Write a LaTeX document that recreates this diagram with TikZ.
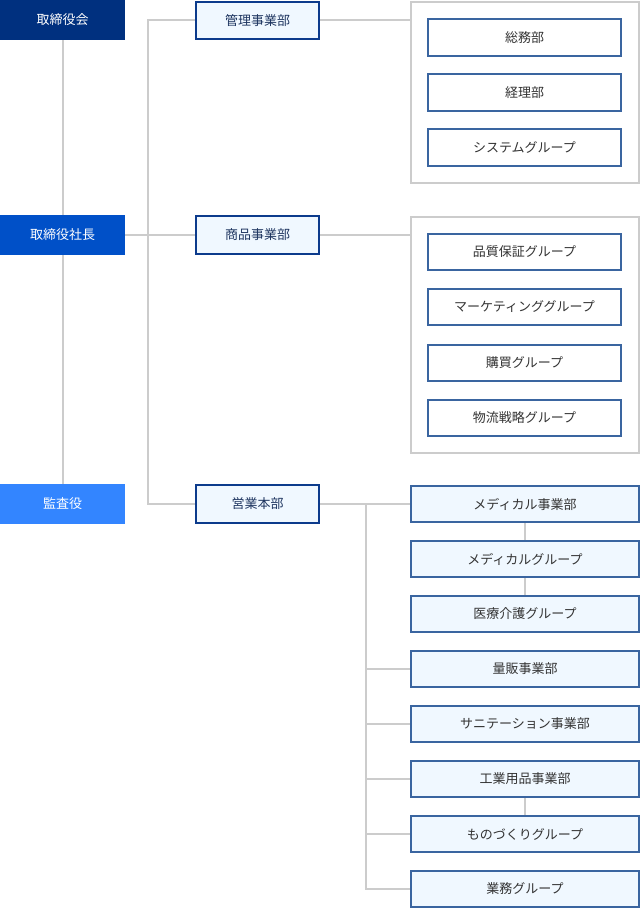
\documentclass[tikz,border=0pt]{standalone}
\usepackage{fontspec}
\setmainfont{Noto Sans CJK JP}
\usetikzlibrary{backgrounds}
\definecolor{cBoard}{HTML}{00307F}
\definecolor{cPres}{HTML}{0050C8}
\definecolor{cAudit}{HTML}{3385FF}
\definecolor{cMidB}{HTML}{0C3B8C}
\definecolor{cMidT}{HTML}{1E3560}
\definecolor{cGrpB}{HTML}{3A65A0}
\definecolor{cFill}{HTML}{F0F8FF}
\definecolor{cLine}{HTML}{CCCCCC}
\definecolor{cTxt}{HTML}{333333}
\tikzset{
  topbox/.style={fill=#1, text=white, minimum width=125pt, minimum height=40pt, inner sep=0pt, outer sep=0pt, font=\fontsize{13}{15}\selectfont},
  midbox/.style={draw=cMidB, line width=2pt, fill=cFill, text=cMidT, minimum width=123pt, minimum height=#1, inner sep=0pt, outer sep=0pt, font=\fontsize{13}{15}\selectfont},
  grpbox/.style={draw=cGrpB, line width=2pt, fill=white, text=cTxt, minimum width=193pt, minimum height=#1, inner sep=0pt, outer sep=0pt, font=\fontsize{13}{15}\selectfont},
  salebox/.style={draw=cGrpB, line width=2pt, fill=cFill, text=cTxt, minimum width=228pt, minimum height=36pt, inner sep=0pt, outer sep=0pt, font=\fontsize{13}{15}\selectfont},
  framebox/.style={draw=cLine, line width=2pt, fill=white, minimum width=228pt, minimum height=#1, inner sep=0pt, outer sep=0pt},
  conn/.style={draw=cLine, line width=2pt}
}
\begin{document}
\begin{tikzpicture}[x=1pt, y=-1pt]
\useasboundingbox (0,0) rectangle (640,909);
% left column
\node[topbox=cBoard] (board) at (62.5,20) {取締役会};
\node[topbox=cPres] (pres) at (62.5,235) {取締役社長};
\node[topbox=cAudit] (audit) at (62.5,504) {監査役};
% middle column
\node[midbox=37pt] (kanri) at (257.5,20.5) {管理事業部};
\node[midbox=38pt] (shohin) at (257.5,235) {商品事業部};
\node[midbox=38pt] (eigyo) at (257.5,504) {営業本部};
% frames
\node[framebox=181pt] (frameA) at (525,92.5) {};
\node[framebox=236pt] (frameB) at (525,335) {};
% group boxes in frame A
\node[grpbox=37pt] (somu) at (524.5,37.5) {総務部};
\node[grpbox=37pt] (keiri) at (524.5,92.5) {経理部};
\node[grpbox=37pt] (system) at (524.5,147.5) {システムグループ};
% group boxes in frame B
\node[grpbox=36pt] (hinshitsu) at (524.5,252) {品質保証グループ};
\node[grpbox=36pt] (marketing) at (524.5,307) {マーケティンググループ};
\node[grpbox=36pt] (kobai) at (524.5,363) {購買グループ};
\node[grpbox=36pt] (butsuryu) at (524.5,418) {物流戦略グループ};
% sales boxes
\node[salebox] (med) at (525,504) {メディカル事業部};
\node[salebox] (medg) at (525,559) {メディカルグループ};
\node[salebox] (iryo) at (525,614) {医療介護グループ};
\node[salebox] (ryohan) at (525,669) {量販事業部};
\node[salebox] (sani) at (525,724) {サニテーション事業部};
\node[salebox] (kogyo) at (525,779) {工業用品事業部};
\node[salebox] (mono) at (525,834) {ものづくりグループ};
\node[salebox] (gyomu) at (525,889) {業務グループ};
% connectors
\coordinate (trunkTop) at (148,20);
\coordinate (trunkBot) at (148,504);
\coordinate (sTrunk) at (366,504);
\begin{scope}[on background layer]
\draw[conn] (board.south) -- (pres.north);
\draw[conn] (pres.south) -- (audit.north);
\draw[conn] (pres.east) -- (shohin.west);
\draw[conn] (kanri.west |- trunkTop) -- (trunkTop) -- (trunkBot) -- (eigyo.west);
\draw[conn] (kanri.east |- trunkTop) -- (trunkTop -| frameA.west);
\draw[conn] (shohin.east) -- (shohin.east -| frameB.west);
\draw[conn] (eigyo.east) -- (med.west);
\draw[conn] (sTrunk) |- (gyomu.west);
\draw[conn] (sTrunk) |- (ryohan.west);
\draw[conn] (sTrunk) |- (sani.west);
\draw[conn] (sTrunk) |- (kogyo.west);
\draw[conn] (sTrunk) |- (mono.west);
\draw[conn] (med.south) -- (medg.north);
\draw[conn] (medg.south) -- (iryo.north);
\draw[conn] (kogyo.south) -- (mono.north);
\end{scope}
\end{tikzpicture}
\end{document}
